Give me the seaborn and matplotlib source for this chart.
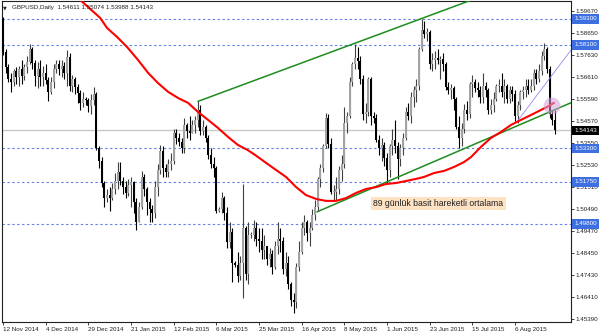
import numpy as np
import pandas as pd
import matplotlib
matplotlib.use("Agg")
import matplotlib.pyplot as plt
import seaborn as sns

# ---------------- data ----------------
tick_bars = [0, 16, 32, 48, 64, 80, 96, 112, 128, 144, 160, 176, 192]
tick_labels = ["12 Nov 2014", "4 Dec 2014", "29 Dec 2014", "21 Jan 2015", "12 Feb 2015",
               "6 Mar 2015", "25 Mar 2015", "16 Apr 2015", "8 May 2015", "1 Jun 2015",
               "23 Jun 2015", "15 Jul 2015", "6 Aug 2015"]

first_open = 1.5930
close = [1.5775, 1.5705, 1.5650, 1.5640, 1.5690, 1.5660, 1.5700, 1.5665, 1.5705, 1.5730,
         1.5790, 1.5725, 1.5665, 1.5700, 1.5660, 1.5680, 1.5645, 1.5590, 1.5640, 1.5700,
         1.5720, 1.5700, 1.5710, 1.5680, 1.5755, 1.5620, 1.5650, 1.5615, 1.5585, 1.5540,
         1.5560, 1.5555, 1.5525, 1.5555, 1.5580, 1.5330, 1.5270, 1.5170, 1.5100, 1.5115,
         1.5100, 1.5140, 1.5180, 1.5220, 1.5180, 1.5150, 1.5125, 1.5160, 1.5175, 1.5080,
         1.4990, 1.5060, 1.5200, 1.5140, 1.5080, 1.5050, 1.5030, 1.5150, 1.5230, 1.5320,
         1.5240, 1.5220, 1.5260, 1.5270, 1.5400, 1.5380, 1.5360, 1.5330, 1.5440, 1.5410,
         1.5400, 1.5440, 1.5460, 1.5510, 1.5410, 1.5430, 1.5380, 1.5300, 1.5260, 1.5240,
         1.5040, 1.5050, 1.5100, 1.5030, 1.4895, 1.4945, 1.4800, 1.4790, 1.4740, 1.4800,
         1.4960, 1.4750, 1.4930, 1.4930, 1.4960, 1.4910, 1.4900, 1.4860, 1.4880, 1.4820,
         1.4840, 1.4780, 1.4880, 1.4910, 1.4900, 1.4770, 1.4800, 1.4700, 1.4630, 1.4620,
         1.4780, 1.4850, 1.4960, 1.4990, 1.4940, 1.4960, 1.5020, 1.5060, 1.5190, 1.5240,
         1.5340, 1.5470, 1.5350, 1.5130, 1.5130, 1.5140, 1.5230, 1.5260, 1.5450, 1.5480,
         1.5640, 1.5720, 1.5750, 1.5735, 1.5650, 1.5490, 1.5500, 1.5650, 1.5480, 1.5470,
         1.5370, 1.5330, 1.5345, 1.5285, 1.5230, 1.5340, 1.5370, 1.5340, 1.5280, 1.5330,
         1.5380, 1.5500, 1.5480, 1.5570, 1.5600, 1.5620, 1.5790, 1.5880, 1.5860, 1.5870,
         1.5720, 1.5740, 1.5750, 1.5740, 1.5745, 1.5720, 1.5615, 1.5600, 1.5610, 1.5560,
         1.5430, 1.5380, 1.5420, 1.5510, 1.5490, 1.5630, 1.5640, 1.5610, 1.5600, 1.5570,
         1.5620, 1.5600, 1.5510, 1.5530, 1.5560, 1.5620, 1.5620, 1.5590, 1.5620, 1.5560,
         1.5600, 1.5580, 1.5480, 1.5530, 1.5590, 1.5600, 1.5620, 1.5600, 1.5620, 1.5680,
         1.5650, 1.5690, 1.5760, 1.5790, 1.5700, 1.5490, 1.54611, 1.54143]
high = [1.5940, 1.5790, 1.5720, 1.5680, 1.5700, 1.5705, 1.5710, 1.5740, 1.5720, 1.5760,
        1.5815, 1.5800, 1.5740, 1.5730, 1.5740, 1.5710, 1.5720, 1.5660, 1.5660, 1.5720,
        1.5740, 1.5740, 1.5740, 1.5730, 1.5786, 1.5770, 1.5670, 1.5660, 1.5630, 1.5600,
        1.5590, 1.5570, 1.5565, 1.5580, 1.5615, 1.5590, 1.5340, 1.5290, 1.5180, 1.5140,
        1.5150, 1.5170, 1.5215, 1.5265, 1.5265, 1.5200, 1.5180, 1.5190, 1.5200, 1.5180,
        1.5100, 1.5080, 1.5225, 1.5210, 1.5150, 1.5100, 1.5070, 1.5180, 1.5260, 1.5346,
        1.5340, 1.5260, 1.5280, 1.5310, 1.5420, 1.5420, 1.5400, 1.5380, 1.5470, 1.5450,
        1.5480, 1.5460, 1.5480, 1.5548, 1.5530, 1.5460, 1.5440, 1.5390, 1.5330, 1.5290,
        1.5250, 1.5060, 1.5130, 1.5110, 1.5060, 1.4990, 1.4960, 1.4810, 1.4850, 1.4830,
        1.5165, 1.4970, 1.4990, 1.4945, 1.5000, 1.4990, 1.4960, 1.4960, 1.4930, 1.4880,
        1.4870, 1.4860, 1.4900, 1.4990, 1.4960, 1.4920, 1.4850, 1.4830, 1.4710, 1.4660,
        1.4800, 1.4900, 1.4990, 1.5020, 1.5000, 1.4990, 1.5050, 1.5090, 1.5200, 1.5260,
        1.5350, 1.5495, 1.5490, 1.5380, 1.5160, 1.5200, 1.5250, 1.5300, 1.5520, 1.5500,
        1.5660, 1.5730, 1.5815, 1.5800, 1.5760, 1.5670, 1.5540, 1.5660, 1.5660, 1.5500,
        1.5490, 1.5390, 1.5380, 1.5360, 1.5310, 1.5350, 1.5420, 1.5460, 1.5360, 1.5350,
        1.5400, 1.5520, 1.5540, 1.5590, 1.5620, 1.5650, 1.5800, 1.5930, 1.5920, 1.5890,
        1.5880, 1.5770, 1.5780, 1.5790, 1.5760, 1.5770, 1.5730, 1.5640, 1.5630, 1.5620,
        1.5570, 1.5480, 1.5450, 1.5535, 1.5550, 1.5640, 1.5670, 1.5650, 1.5640, 1.5620,
        1.5680, 1.5640, 1.5610, 1.5560, 1.5590, 1.5630, 1.5650, 1.5680, 1.5650, 1.5630,
        1.5620, 1.5620, 1.5600, 1.5550, 1.5600, 1.5620, 1.5650, 1.5650, 1.5650, 1.5700,
        1.5700, 1.5720, 1.5780, 1.5820, 1.5800, 1.5710, 1.5510, 1.55074]
low = [1.5765, 1.5680, 1.5640, 1.5592, 1.5620, 1.5630, 1.5620, 1.5630, 1.5645, 1.5680,
       1.5720, 1.5700, 1.5620, 1.5610, 1.5620, 1.5620, 1.5630, 1.5550, 1.5580, 1.5610,
       1.5680, 1.5670, 1.5660, 1.5650, 1.5620, 1.5595, 1.5590, 1.5580, 1.5540, 1.5510,
       1.5520, 1.5530, 1.5500, 1.5490, 1.5530, 1.5325, 1.5240, 1.5150, 1.5060, 1.5080,
       1.5040, 1.5090, 1.5120, 1.5140, 1.5160, 1.5120, 1.5100, 1.5110, 1.5060, 1.5030,
       1.4952, 1.4990, 1.5050, 1.5110, 1.5020, 1.4990, 1.4990, 1.5010, 1.5110, 1.5210,
       1.5200, 1.5200, 1.5200, 1.5230, 1.5260, 1.5350, 1.5340, 1.5310, 1.5310, 1.5380,
       1.5370, 1.5400, 1.5400, 1.5430, 1.5390, 1.5390, 1.5360, 1.5280, 1.5240, 1.5200,
       1.5030, 1.5035, 1.5030, 1.5000, 1.4870, 1.4870, 1.4710, 1.4780, 1.4710, 1.4720,
       1.4635, 1.4720, 1.4700, 1.4915, 1.4900, 1.4880, 1.4850, 1.4820, 1.4820, 1.4790,
       1.4780, 1.4750, 1.4770, 1.4840, 1.4850, 1.4750, 1.4740, 1.4680, 1.4600, 1.4570,
       1.4590, 1.4760, 1.4840, 1.4930, 1.4900, 1.4880, 1.4950, 1.5000, 1.5040, 1.5150,
       1.5220, 1.5330, 1.5330, 1.5120, 1.5090, 1.5090, 1.5120, 1.5180, 1.5240, 1.5400,
       1.5470, 1.5620, 1.5700, 1.5700, 1.5630, 1.5460, 1.5450, 1.5480, 1.5440, 1.5450,
       1.5360, 1.5300, 1.5270, 1.5250, 1.5170, 1.5200, 1.5300, 1.5310, 1.5190, 1.5250,
       1.5300, 1.5370, 1.5460, 1.5450, 1.5520, 1.5545, 1.5600, 1.5780, 1.5840, 1.5830,
       1.5700, 1.5690, 1.5700, 1.5720, 1.5650, 1.5690, 1.5600, 1.5580, 1.5560, 1.5510,
       1.5420, 1.5330, 1.5340, 1.5400, 1.5460, 1.5470, 1.5570, 1.5590, 1.5570, 1.5540,
       1.5540, 1.5570, 1.5490, 1.5490, 1.5500, 1.5550, 1.5590, 1.5570, 1.5540, 1.5540,
       1.5540, 1.5550, 1.5455, 1.5450, 1.5510, 1.5560, 1.5570, 1.5580, 1.5590, 1.5600,
       1.5630, 1.5640, 1.5670, 1.5740, 1.5680, 1.5470, 1.5440, 1.53988]

# 89-day simple moving average (red line), read at bar positions
ma_bar = [28.9, 36.4, 39.0, 42.7, 46.5, 50.6, 54.4, 58.1, 61.9, 65.6, 69.4, 73.1, 76.9,
          80.6, 84.4, 88.1, 91.8, 94.5, 98.2, 102.4, 106.1, 109.9, 113.6, 117.4, 121.1,
          124.9, 128.6, 132.4, 136.1, 139.9, 143.6, 147.4, 151.1, 154.9, 157.9, 161.6,
          165.4, 169.1, 172.9, 175.5, 179.2, 183.0, 186.7, 190.5, 194.2, 198.0, 201.7,
          204.0, 206.6]
ma_val = [1.6018, 1.5935, 1.5888, 1.5847, 1.5800, 1.5740, 1.5680, 1.5633, 1.5592, 1.5564,
          1.5541, 1.5499, 1.5462, 1.5425, 1.5383, 1.5346, 1.5322, 1.5300, 1.5267, 1.5230,
          1.5198, 1.5151, 1.5114, 1.5096, 1.5087, 1.5087, 1.5100, 1.5124, 1.5142, 1.5151,
          1.5165, 1.5170, 1.5179, 1.5189, 1.5198, 1.5216, 1.5226, 1.5244, 1.5267, 1.5290,
          1.5337, 1.5379, 1.5406, 1.5439, 1.5462, 1.5485, 1.5508, 1.5522, 1.5541]

levels = [1.59300, 1.58100, 1.53300, 1.51750, 1.49800]
level_labels = ["1.59300", "1.58100", "1.53300", "1.51750", "1.49800"]
last_price = 1.54143
price_ticks = [1.59670, 1.58650, 1.57630, 1.56610, 1.55590, 1.54570, 1.53550,
               1.52530, 1.51510, 1.50490, 1.49470, 1.48450, 1.47430, 1.46410, 1.45390]

upper_bars, upper_prices = [73.1, 190.0], [1.5548, 1.6083]
lower_bars, lower_prices = [117.7, 214.0], [1.5036, 1.5547]
thin_bars, thin_prices = [192.7, 213.0], [1.5453, 1.5786]
circle_bar, circle_price = 205.9, 1.5527

header = "GBPUSD,Daily  1.54611 1.55074 1.53988 1.54143"
note = "89 günlük basit hareketli ortalama"
note_bar, note_price = 163.3, 1.5075

# ---------------- build table ----------------
df = pd.DataFrame({"close": close, "high": high, "low": low})
df["bar"] = np.arange(len(df))
df["open"] = [first_open] + close[:-1]
df["up"] = df["close"] >= df["open"]

# ---------------- figure ----------------
sns.set_theme(style="white")
plt.rcParams["font.family"] = ["Liberation Sans", "DejaVu Sans"]

fig = plt.figure(figsize=(6.0, 3.33), dpi=100)
ax = fig.add_axes([2 / 600, 11 / 333, 569 / 600, 321 / 333])
ax.set_facecolor("white")

# level lines
for lv in levels:
    ax.axhline(lv, color="#6684e6", lw=0.8, ls=(0, (2.2, 2.2)), zorder=1)
ax.axhline(last_price, color="#c8c8c8", lw=1.0, zorder=1)

# candles
wick_col = np.where(df["up"], "#404040", "#000000")
ax.vlines(df["bar"], df["low"], df["high"], colors=wick_col, lw=0.8, zorder=2)
body_bottom = np.minimum(df["open"], df["close"])
body_h = np.maximum(np.abs(df["close"] - df["open"]), 0.00035)
body_col = np.where(df["up"], "#a2a2a2", "#000000")
ax.bar(df["bar"], body_h, bottom=body_bottom, width=0.82, color=body_col,
       edgecolor="none", zorder=3)

# channel lines
ax.plot(upper_bars, upper_prices, color="#1e8c1e", lw=1.1, zorder=4)
ax.plot(lower_bars, lower_prices, color="#1e8c1e", lw=1.1, zorder=4)
ax.plot(thin_bars, thin_prices, color="#8c8cf0", lw=0.6, zorder=4)

# moving average
ma_df = pd.DataFrame({"bar": ma_bar, "ma": ma_val})
sns.lineplot(data=ma_df, x="bar", y="ma", color="#ff0000", lw=1.5, ax=ax,
             sort=False, zorder=5)

ax.scatter([circle_bar], [circle_price], s=150, color="#d4a0d8", alpha=0.55,
           edgecolors="none", zorder=6)

# note
ax.text(note_bar, note_price, note, fontsize=6.2, color="#202020", ha="center",
        va="center", zorder=7,
        bbox=dict(boxstyle="square,pad=0.25", fc="#fde2c4", ec="none"))

# axes
ax.set_xlim(-0.4, 213.0)
ax.set_ylim(1.4526, 1.6013)
ax.set_xlabel("")
ax.set_ylabel("")
for s in ax.spines.values():
    s.set_color("#202020")
    s.set_linewidth(0.8)

ax.yaxis.tick_right()
ax.set_yticks(price_ticks)
ax.set_yticklabels([f"{p:.5f}" for p in price_ticks], fontsize=4.5, color="#202020")
ax.set_xticks(tick_bars)
ax.set_xticklabels(tick_labels, fontsize=4.5, color="#202020", ha="left")
ax.tick_params(axis="both", which="both", direction="out", length=2.2, width=0.6,
               color="#202020", pad=1.2)
ax.tick_params(axis="y", right=True, left=False)
ax.tick_params(axis="x", bottom=True, top=False)

# right-side price labels
for lv, lab in zip(levels, level_labels):
    ax.annotate(lab, xy=(1.0, lv), xycoords=("axes fraction", "data"),
                xytext=(2.2, 0), textcoords="offset points", fontsize=4.5,
                color="white", ha="left", va="center", annotation_clip=False,
                bbox=dict(boxstyle="square,pad=0.35", fc="#3d6fe0", ec="none"))
ax.annotate(f"{last_price:.5f}", xy=(1.0, last_price), xycoords=("axes fraction", "data"),
            xytext=(2.2, 0), textcoords="offset points", fontsize=4.5,
            color="white", ha="left", va="center", annotation_clip=False,
            bbox=dict(boxstyle="square,pad=0.35", fc="#000000", ec="none"))

# header
fig.text(3 / 600, 1 - 7.5 / 333, "\u25bc", fontsize=3.5, color="#202020", va="center",
         family=["DejaVu Sans"])
fig.text(12 / 600, 1 - 7.5 / 333, header, fontsize=4.5, color="#202020", va="center")

fig.savefig("out.png", dpi=100, facecolor="white")
